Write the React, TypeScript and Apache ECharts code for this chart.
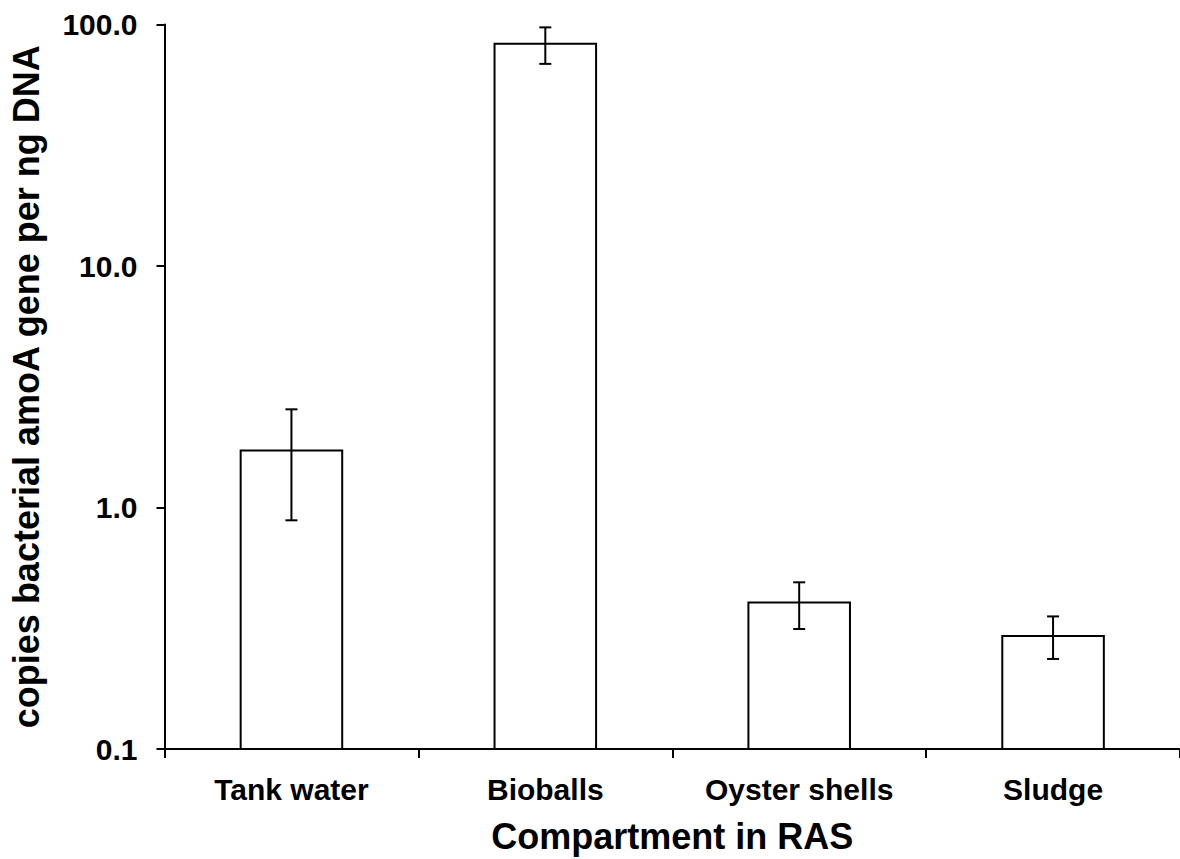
import React, { useEffect, useRef } from "react";
import * as echarts from "echarts";

const categories = ["Tank water", "Bioballs", "Oyster shells", "Sludge"];
const means = [1.72, 83.2, 0.404, 0.294];
const upper = [2.55, 97.3, 0.49, 0.354];
const lower = [0.885, 68.7, 0.314, 0.236];
const yTicks = [0.1, 1, 10, 100];

const FONT = "'Liberation Sans', Arial, Helvetica, sans-serif";

export default function App() {
  const ref = useRef<HTMLDivElement>(null);
  useEffect(() => {
    if (!ref.current) return;
    const chart = echarts.init(ref.current, null, { renderer: "svg" });
    const barData = categories.map((_, i) => [i, means[i]]);
    const errData = categories.map((_, i) => [i, lower[i], upper[i]]);
    const base = yTicks[0];
    chart.setOption({
      animation: false,
      backgroundColor: "#ffffff",
      grid: { left: 164.5, right: -6, top: 24.5, bottom: 107, containLabel: false },
      xAxis: {
        type: "category",
        data: categories,
        boundaryGap: true,
        name: "Compartment in RAS",
        nameLocation: "middle",
        nameGap: 69,
        nameTextStyle: { fontFamily: FONT, fontWeight: "bold", fontSize: 36, color: "#000" },
        axisLine: { lineStyle: { color: "#000", width: 2 } },
        axisTick: { show: true, length: 9, alignWithLabel: false, lineStyle: { color: "#000", width: 2 } },
        axisLabel: { fontFamily: FONT, fontWeight: "bold", fontSize: 30, color: "#000", margin: 25, interval: 0 },
        splitLine: { show: false },
      },
      yAxis: {
        type: "log",
        logBase: 10,
        min: yTicks[0],
        max: yTicks[yTicks.length - 1],
        name: "copies bacterial amoA gene per ng DNA",
        nameLocation: "middle",
        nameGap: 120,
        nameTextStyle: { fontFamily: FONT, fontWeight: "bold", fontSize: 36, color: "#000" },
        axisLine: { show: true, lineStyle: { color: "#000", width: 2 } },
        axisTick: { show: true, length: 8, lineStyle: { color: "#000", width: 2 } },
        axisLabel: {
          fontFamily: FONT,
          fontWeight: "bold",
          fontSize: 30,
          color: "#000",
          margin: 27,
          formatter: (v: number) => v.toFixed(1),
        },
        splitLine: { show: false },
        minorTick: { show: false },
      },
      series: [
        {
          type: "custom",
          data: barData,
          z: 2,
          renderItem: (params: any, api: any) => {
            const x = api.value(0);
            const top = api.coord([x, api.value(1)]);
            const bottom = api.coord([x, base]);
            const w = api.size([1, 0])[0] * 0.4;
            return {
              type: "rect",
              shape: { x: top[0] - w / 2, y: top[1], width: w, height: bottom[1] - top[1] },
              style: { fill: "#ffffff", stroke: "#000", lineWidth: 2 },
            };
          },
        },
        {
          type: "custom",
          data: errData,
          z: 3,
          renderItem: (params: any, api: any) => {
            const x = api.value(0);
            const lo = api.coord([x, api.value(1)]);
            const hi = api.coord([x, api.value(2)]);
            const cap = 6;
            const style = { stroke: "#000", lineWidth: 2 };
            return {
              type: "group",
              children: [
                { type: "line", shape: { x1: lo[0], y1: lo[1], x2: hi[0], y2: hi[1] }, style },
                { type: "line", shape: { x1: hi[0] - cap, y1: hi[1], x2: hi[0] + cap, y2: hi[1] }, style },
                { type: "line", shape: { x1: lo[0] - cap, y1: lo[1], x2: lo[0] + cap, y2: lo[1] }, style },
              ],
            };
          },
        },
      ],
    });
    return () => chart.dispose();
  }, []);
  return (
    <div
      ref={ref}
      style={{ position: "fixed", left: 0, top: 0, width: 1180, height: 859, background: "#fff" }}
    />
  );
}
